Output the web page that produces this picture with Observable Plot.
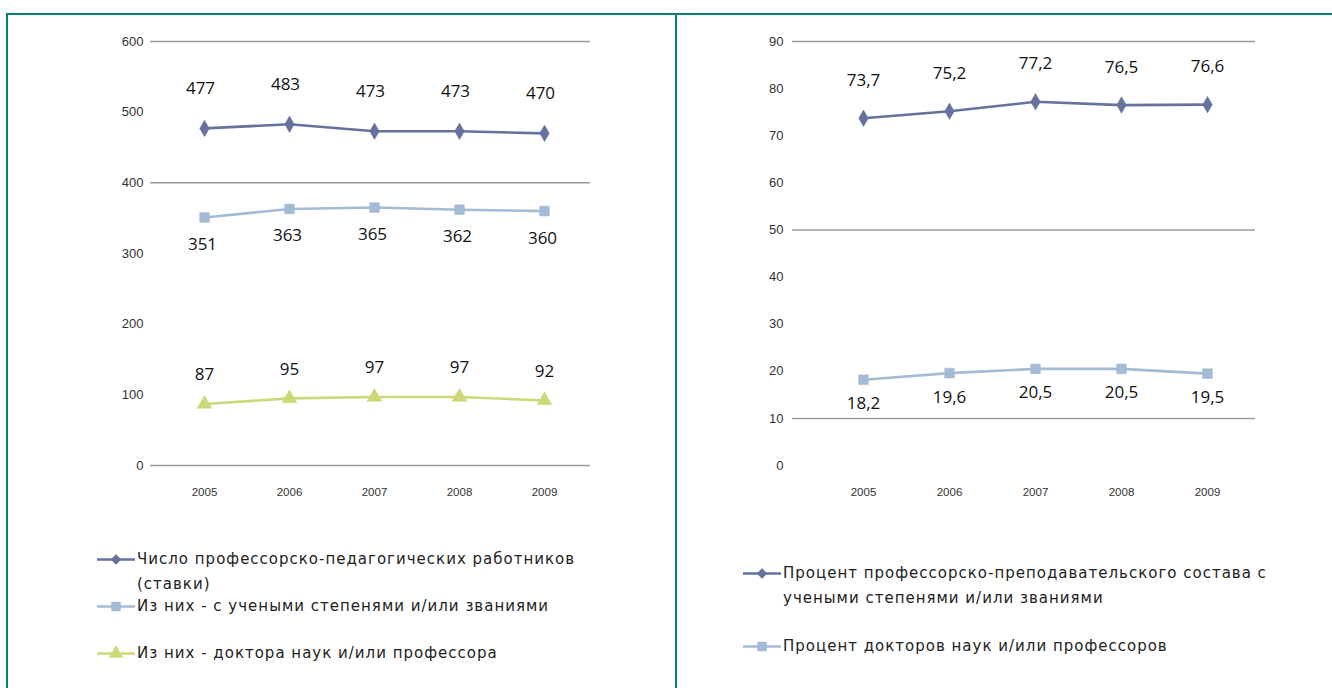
<!DOCTYPE html>
<html>
<head>
<meta charset="utf-8">
<script src="https://cdn.jsdelivr.net/npm/d3@7"></script>
<script src="https://cdn.jsdelivr.net/npm/@observablehq/plot@0.6"></script>
<style>
  html, body { margin: 0; padding: 0; background: #fff; }
  #page { position: relative; width: 1332px; height: 688px; overflow: hidden; background: #fff; }
  .frame { position: absolute; background: #0b8079; }
  .chart { position: absolute; top: 0; }
  .legend { position: absolute; font-family: "DejaVu Sans", sans-serif; font-size: 15px; letter-spacing: 1px; color: #222; }
  .item { position: absolute; white-space: nowrap; line-height: 25px; }
  .item svg { position: absolute; left: 0; top: 0; }
  .item span { position: absolute; white-space: nowrap; }
</style>
</head>
<body>
<div id="page">
  <div class="frame" style="left:6px; top:13px; width:1326px; height:2px;"></div>
  <div class="frame" style="left:6px; top:13px; width:2px; height:675px;"></div>
  <div class="frame" style="left:675px; top:13px; width:2px; height:675px;"></div>
  <div id="left" class="chart" style="left:8px;"></div>
  <div id="right" class="chart" style="left:676px;"></div>
  <div id="legendL" class="legend"></div>
  <div id="legendR" class="legend"></div>
</div>
<script>
// ---- data ----
const years = ["2005", "2006", "2007", "2008", "2009"];
const staff = [477, 483, 473, 473, 470];
const withDegrees = [351, 363, 365, 362, 360];
const doctors = [87, 95, 97, 97, 92];
const pctDegrees = [73.7, 75.2, 77.2, 76.5, 76.6];
const pctDoctors = [18.2, 19.6, 20.5, 20.5, 19.5];
const leftTicks = [0, 100, 200, 300, 400, 500, 600];
const rightTicks = [0, 10, 20, 30, 40, 50, 60, 70, 80, 90];
const leftGrid = [600, 400, 0];
const rightGrid = [90, 50, 10];
const leftNames = [
  ["Число профессорско-педагогических работников", "(ставки)"],
  ["Из них - с учеными степенями и/или званиями"],
  ["Из них - доктора наук и/или профессора"]
];
const rightNames = [
  ["Процент профессорско-преподавательского состава с", "учеными степенями и/или званиями"],
  ["Процент докторов наук и/или профессоров"]
];

const C1 = "#65719f", C2 = "#a3bbd4", C3 = "#cdd879";
const fmt = v => String(v).replace(".", ",");
const rows = vals => years.map((y, i) => ({year: y, v: vals[i]}));

const labelFont = "'Open Sans', sans-serif";

function seriesMarks(vals, color, symbol, r, dy, dx) {
  const d = rows(vals);
  return [
    Plot.line(d, {x: "year", y: "v", stroke: color, strokeWidth: 2.6}),
    Plot.dot(d, {x: "year", y: "v", fill: color, stroke: color, strokeWidth: 0.5, symbol, r}),
    Plot.text(d, {x: "year", y: "v", text: d => fmt(d.v), dy, dx, fill: "#111",
      fontSize: 17, fontFamily: labelFont, fontWeight: 500})
  ];
}

const axisStyle = {fontSize: "13px", fontFamily: "'Liberation Sans', sans-serif", color: "#333", overflow: "visible"};

const left = Plot.plot({
  width: 668, height: 520,
  marginLeft: 142, marginRight: 86, marginTop: 41, marginBottom: 55,
  style: axisStyle,
  x: {type: "point", domain: years, range: [195, 536], padding: 0},
  y: {domain: [0, 600]},
  marks: [
    Plot.ruleY(leftGrid, {stroke: "#9a9a9a", strokeWidth: 1.5}),
    Plot.axisY({ticks: leftTicks, tickSize: 0, tickPadding: 7, label: null, fill: "#333", fontSize: 13}),
    Plot.axisX({tickSize: 0, tickPadding: 22, label: null, fontSize: 11.5, fill: "#333"}),
    ...seriesMarks(staff, C1, "diamond", 5, -40, -4),
    ...seriesMarks(withDegrees, C2, "square", 5.5, 27, -2),
    ...seriesMarks(doctors, C3, "triangle", 5.5, -29, 0)
  ]
});
document.getElementById("left").appendChild(left);

const right = Plot.plot({
  width: 656, height: 520,
  marginLeft: 116, marginRight: 77, marginTop: 41, marginBottom: 55,
  style: axisStyle,
  x: {type: "point", domain: years, range: [186, 532], padding: 0},
  y: {domain: [0, 90]},
  marks: [
    Plot.ruleY(rightGrid, {stroke: "#9a9a9a", strokeWidth: 1.5}),
    Plot.axisY({ticks: rightTicks, tickSize: 0, tickPadding: 9, label: null, fill: "#333", fontSize: 13}),
    Plot.axisX({tickSize: 0, tickPadding: 22, label: null, fontSize: 11.5, fill: "#333"}),
    ...seriesMarks(pctDegrees, C1, "diamond", 5, -38, 0),
    ...seriesMarks(pctDoctors, C2, "square", 5.5, 24, 0)
  ]
});
document.getElementById("right").appendChild(right);

// ---- legends ----
function swatch(color, symbol) {
  const s = d3.create("svg").attr("width", 40).attr("height", 25);
  s.append("line").attr("x1", 0).attr("x2", 38).attr("y1", 12.5).attr("y2", 12.5)
    .attr("stroke", color).attr("stroke-width", 2.6);
  const sym = {diamond: d3.symbolDiamond2, square: d3.symbolSquare, triangle: d3.symbolTriangle}[symbol];
  s.append("path").attr("d", d3.symbol(sym, symbol === "diamond" ? 70 : 90)())
    .attr("transform", "translate(19,12.5)").attr("fill", color);
  return s.node();
}
function legend(id, x, entries) {
  const root = document.getElementById(id);
  root.style.left = x + "px"; root.style.top = "0px";
  entries.forEach(([names, color, symbol, top]) => {
    const it = document.createElement("div");
    it.className = "item"; it.style.top = top + "px"; it.style.left = "0px";
    it.appendChild(swatch(color, symbol));
    names.forEach((n, k) => {
      const sp = document.createElement("span");
      sp.textContent = n; sp.style.left = "40px"; sp.style.top = (k * 25) + "px";
      it.appendChild(sp);
    });
    root.appendChild(it);
  });
}
legend("legendL", 97, [
  [leftNames[0], C1, "diamond", 547],
  [leftNames[1], C2, "square", 594],
  [leftNames[2], C3, "triangle", 641]
]);
legend("legendR", 743, [
  [rightNames[0], C1, "diamond", 561],
  [rightNames[1], C2, "square", 634]
]);
</script>
</body>
</html>
